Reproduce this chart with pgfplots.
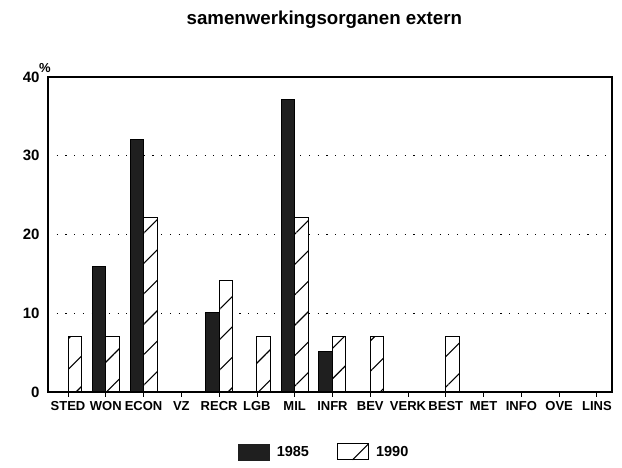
\documentclass[border=0pt]{standalone}
\usepackage{fontspec}
\setmainfont{Liberation Sans}
\usepackage{pgfplots}
\pgfplotsset{compat=1.18}
\usetikzlibrary{patterns.meta}
\begin{document}
\begin{tikzpicture}
\useasboundingbox (-48pt,-76pt) rectangle (574pt,392pt);
\begin{axis}[
  scale only axis,
  width=564pt, height=315pt,
  xmin=-0.53, xmax=14.4,
  ymin=0, ymax=40,
  ybar=0pt, bar width=13.5pt,
  xtick={0,...,14},
  xticklabels={STED,WON,ECON,VZ,RECR,LGB,MIL,INFR,BEV,VERK,BEST,MET,INFO,OVE,LINS},
  xtick pos=bottom,
  major tick length=5pt,
  xtick style={black, line width=0.8pt},
  ytick={0,10,20,30,40},
  ytick style={draw=none},
  ymajorgrids,
  grid style={black, line width=1.1pt, dash pattern=on 1.1pt off 7.6pt},
  axis line style={line width=1.1pt},
  x tick label style={font=\fontsize{13}{13}\selectfont\bfseries, yshift=-1pt},
  y tick label style={font=\fontsize{15}{15}\selectfont\bfseries, xshift=-5pt},
  /pgf/number format/assume math mode=true,
  ylabel={\%},
  ylabel style={rotate=-90, at={(rel axis cs:0,1)}, anchor=south, xshift=-3pt, yshift=1pt, font=\fontsize{13}{13}\selectfont\bfseries},
  title={samenwerkingsorganen extern},
  title style={at={(rel axis cs:0.49,1)}, anchor=center, yshift=51pt, font=\fontsize{18.7}{18.7}\selectfont\bfseries},
  legend columns=2,
  legend style={draw=none, at={(0.49,-0.19)}, anchor=center, font=\fontsize{14.5}{14.5}\selectfont\bfseries,
    /tikz/every odd column/.append style={column sep=5pt},
    /tikz/every even column/.append style={column sep=26pt}},
]
\addlegendimage{legend image code/.code={\fill[black!88] (0pt,-8pt) rectangle (31pt,8pt);}}
\addlegendentry{1985}
\addlegendimage{legend image code/.code={\draw[black, fill=white, line width=1pt] (0pt,-8pt) rectangle (31pt,8pt); \draw[black, line width=1.1pt] (15pt,-8pt) -- (31pt,8pt);}}
\addlegendentry{1990}
\addplot[forget plot, bar shift=-6.75pt, fill=black!88, draw=black, line width=1pt]
  coordinates {(1,15.9) (2,32.1) (4,10.1) (6,37.2) (7,5.1)};
\addplot[forget plot, bar shift=6.75pt, draw=black, fill=white, line width=1pt,
  postaction={pattern={Lines[angle=45, distance=21.5pt, line width=1.1pt]}}]
  coordinates {(0,7) (1,7) (2,22.1) (4,14.2) (5,7.1) (6,22.2) (7,7.1) (8,7.1) (10,7.1)};
\end{axis}
\end{tikzpicture}
\end{document}
